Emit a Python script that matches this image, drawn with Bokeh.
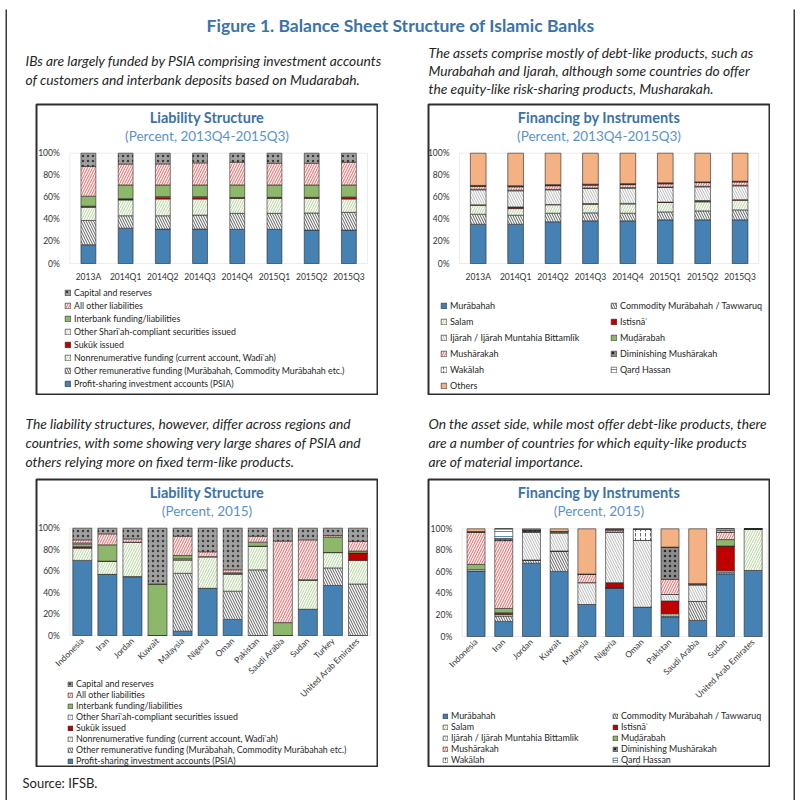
import math
from bokeh.plotting import figure
from bokeh.models import (ColumnDataSource, Range1d, Legend, LegendItem, Label, BoxAnnotation,
                          FixedTicker, PrintfTickFormatter, Spacer)
from bokeh.layouts import row, column
from bokeh.embed import file_html
from bokeh.resources import INLINE

FONT = "Lato"

# ---------------- data ----------------
periods = ["2013A", "2014Q1", "2014Q2", "2014Q3", "2014Q4", "2015Q1", "2015Q2", "2015Q3"]

# Liability structure (percent), 2013Q4-2015Q3
lt_psia = [17, 32, 31.2, 31.2, 31, 31, 30.3, 30.3]
lt_other_rem = [22, 11.3, 12.1, 12.7, 14.5, 14.5, 15.5, 16.1]
lt_nonrem = [12, 14.3, 15.2, 14.6, 13.6, 13.6, 13.3, 12.1]
lt_sukuk = [0.7, 0.9, 1.6, 1.6, 0.5, 0.6, 0.6, 1.4]
lt_other_sh = [0.3, 0.2, 0.5, 0.5, 0.3, 0.3, 0.3, 0.4]
lt_interbank = [9, 12.5, 10.6, 10.6, 11.3, 11.2, 11.2, 10.9]
lt_all_other = [27, 19, 19.1, 20, 20.6, 19.7, 19.7, 20.6]
lt_capital = [12, 9.8, 9.7, 8.8, 8.2, 9.1, 9.1, 8.2]

# Financing by instruments (percent), 2013Q4-2015Q3
ft_murabahah = [35.6, 35.6, 37.8, 38.7, 38.7, 39.6, 39.6, 39.6]
ft_commodity = [9.1, 8.2, 7.8, 7.2, 6.9, 7.2, 8.1, 9.0]
ft_salam = [8.2, 6.0, 7.6, 7.9, 8.4, 8.5, 8.2, 8.8]
ft_istisna = [0.3, 1.5, 0.3, 0.5, 0.5, 0.4, 1.2, 0.5]
ft_ijarah = [13.6, 14.6, 13.3, 13.7, 13.8, 13.2, 12.4, 12.5]
ft_mudarabah = [0.6, 0.6, 0.5, 0.5, 0.5, 0.5, 0.5, 0.5]
ft_musharakah = [2.5, 3.0, 3.2, 2.5, 2.7, 2.8, 3.3, 3.0]
ft_dim_mush = [0.5, 0.5, 0.6, 0.5, 0.5, 0.5, 0.4, 0.4]
ft_wakalah = [0.3, 0.3, 0.3, 0.3, 0.3, 0.3, 0.2, 0.2]
ft_qard = [0.1, 0.2, 0.1, 0.1, 0.1, 0.1, 0.1, 0.1]
ft_others = [29.2, 29.5, 28.5, 28.1, 27.6, 26.9, 26.0, 25.4]

# Liability structure by country (percent, 2015)
countries_l = ["Indonesia", "Iran", "Jordan", "Kuwait", "Malaysia", "Nigeria", "Oman",
               "Pakistan", "Saudi Arabia", "Sudan", "Turkey", "United Arab Emirates"]
lc_psia = [70, 57, 54.3, 0, 4, 44, 15, 0, 0, 24.5, 46.6, 0]
lc_other_rem = [0, 0, 0.7, 0, 54, 0, 26.3, 61.2, 0, 0, 16.4, 48]
lc_nonrem = [11.4, 12.3, 32, 0, 12.5, 29.5, 16.2, 22, 0, 27.4, 14.3, 22]
lc_sukuk = [1.5, 0, 0, 0, 0, 0, 0, 0, 0, 0, 0, 6.8]
lc_other_sh = [1.6, 0, 0, 0, 1, 0, 0, 0, 0, 0, 0, 0]
lc_interbank = [1.8, 15.2, 0, 48, 3, 0, 1, 3.8, 12, 0, 14.3, 1.9]
lc_all_other = [2.8, 10.2, 3, 0, 18, 4.5, 2.7, 5.5, 76, 37.2, 1.5, 9]
lc_capital = [10.9, 5.3, 10, 52, 7.5, 22, 38.8, 7.5, 12, 10.9, 6.9, 12.3]

# Financing by instruments by country (percent, 2015)
countries_f = ["Indonesia", "Iran", "Jordan", "Kuwait", "Malaysia", "Nigeria", "Oman",
               "Pakistan", "Saudi Arabia", "Sudan", "United Arab Emirates"]
fc_murabahah = [60.5, 14, 68, 60.4, 29.7, 45.2, 27.2, 18, 14.9, 58.2, 61.3]
fc_commodity = [0, 5, 3, 19, 0, 0, 0, 1, 17.6, 1.5, 0]
fc_salam = [0, 1.5, 0, 0, 0, 0, 0, 2, 0, 1.3, 38.7]
fc_istisna = [0, 1, 0, 0, 0, 4.8, 0, 12, 0, 23, 0]
fc_ijarah = [1.5, 0.5, 26, 16.6, 20.3, 47, 62, 6, 15.5, 0, 0]
fc_mudarabah = [5, 4, 0, 1, 0, 0, 0, 0, 0, 6, 0]
fc_musharakah = [30, 63, 0.5, 0.5, 8, 2, 0, 14, 1, 7, 0]
fc_dim_mush = [0, 1, 1.5, 0, 0, 0, 0, 30, 0, 0, 0]
fc_wakalah = [0, 1, 0, 0, 0, 0.5, 10.3, 0, 0, 1.5, 0]
fc_qard = [0.5, 9, 0, 0, 0, 0, 0, 0, 0, 1.5, 0]
fc_others = [2.5, 0, 1, 2.5, 42, 0.5, 0.5, 17, 51, 0, 0]

liab_labels = ["Profit-sharing investment accounts (PSIA)",
               "Other remunerative funding (Murābahah, Commodity Murābahah etc.)",
               "Nonrenumerative funding (current account, Wadīʿah)",
               "Sukūk issued",
               "Other Sharīʿah-compliant securities issued",
               "Interbank funding/liabilities",
               "All other liabilities",
               "Capital and reserves"]
fin_labels = ["Murābahah", "Commodity Murābahah / Tawwaruq", "Salam", "Istisnāʿ",
              "Ijārah / Ijārah Muntahia Bittamlīk", "Muḍārabah", "Mushārakah",
              "Diminishing Mushārakah", "Wakālah", "Qarḍ Hassan", "Others"]

# ---------------- styles ----------------
BLUE = "#4581b3"
GREEN = "#8db86b"
RED = "#c00000"
ORANGE = "#f4b183"
TITLE_BLUE = "#3b72a8"
SUB_BLUE = "#5b93c9"
INK = "#262626"
FRAME = "#2e2e2e"

liab_style = dict(
    fill=[BLUE, "white", "white", RED, "white", GREEN, "#fff0f0", "#a0a0a0"],
    hatch=["blank", "left_diagonal_line", "right_diagonal_line", "blank",
           "right_diagonal_line", "blank", "right_diagonal_line", "dot"],
    hcolor=["#000000", "#4d4d4d", "#a9d08e", "#000000", "#c8c8c8", "#000000", "#e35d5d", "#3a3a3a"],
)
fin_style = dict(
    fill=[BLUE, "white", "white", RED, "white", GREEN, "#fff0f0", "#8c8c8c", "white", "white", ORANGE],
    hatch=["blank", "left_diagonal_line", "right_diagonal_line", "blank", "left_diagonal_line",
           "blank", "right_diagonal_line", "dot", "vertical_dash", "horizontal_line", "blank"],
    hcolor=["#000000", "#4d4d4d", "#a9d08e", "#000000", "#b0b0b0", "#000000", "#e35d5d",
            "#262626", "#595959", BLUE, "#000000"],
)


def panel(factors, columns, labels, style, title, subtitle, W, H, g):
    """One boxed panel: the figure's frame is the whole box, the chart sits inside it."""
    n = len(factors)
    Wf, Hf = W - 2, H - 2          # frame size (min_border = 1)
    L, R, T, B = g["L"], g["R"], g["T"], g["B"]
    pitch = (R - L) / n
    x0 = -0.5 - L / pitch
    x1 = x0 + Wf / pitch
    upp = 100.0 / (B - T)
    y1 = 100 + T * upp
    y0 = y1 - Hf * upp

    data = {"idx": list(range(n)), "cat": factors}
    keys = []
    for i, col in enumerate(columns):
        data[f"s{i}"] = col
        keys.append(f"s{i}")
    src = ColumnDataSource(data)

    p = figure(width=W, height=H, x_range=Range1d(x0, x1), y_range=Range1d(y0, y1),
               output_backend="svg", toolbar_location=None, min_border=1)
    p.outline_line_color = FRAME
    p.outline_line_width = 2
    p.background_fill_color = "white"
    p.border_fill_color = "white"
    p.xgrid.visible = False
    p.ygrid.visible = False

    p.add_layout(BoxAnnotation(left=-0.5, right=n - 0.5, bottom=0, top=100, fill_alpha=0,
                               fill_color=None, line_color="#c4c4c4", line_width=1,
                               level="underlay"))

    rs = p.vbar_stack(keys, x="idx", width=g["bw"], source=src,
                      fill_color=style["fill"], hatch_pattern=style["hatch"],
                      hatch_color=style["hcolor"], hatch_scale=5, hatch_weight=0.9,
                      line_color=INK, line_width=0.6)

    p.yaxis.ticker = FixedTicker(ticks=[0, 20, 40, 60, 80, 100])
    p.yaxis.formatter = PrintfTickFormatter(format="%d%%")
    p.yaxis.fixed_location = -0.5
    p.xaxis.ticker = FixedTicker(ticks=list(range(n)))
    p.xaxis.major_label_overrides = {i: f for i, f in enumerate(factors)}
    p.xaxis.fixed_location = 0
    for ax in (p.xaxis, p.yaxis):
        ax.axis_line_color = None
        ax.major_tick_line_color = None
        ax.minor_tick_line_color = None
        ax.major_tick_out = 0
        ax.major_tick_in = 0
        ax.minor_tick_out = 0
        ax.minor_tick_in = 0
        ax.major_label_text_font = FONT
        ax.major_label_text_font_size = "8.5px"
        ax.major_label_text_color = "#333333"
    p.yaxis.major_label_standoff = 10
    p.xaxis.major_label_standoff = g["xs"]
    if g["rot"]:
        p.xaxis.major_label_orientation = math.pi / 4

    p.add_layout(Label(x=Wf / 2, y=Hf - g["ty"], x_units="screen", y_units="screen", text=title,
                       text_align="center", text_baseline="middle", text_font=FONT,
                       text_font_style="bold", text_font_size="14.5px", text_color=TITLE_BLUE))
    p.add_layout(Label(x=Wf / 2, y=Hf - g["sy"], x_units="screen", y_units="screen", text=subtitle,
                       text_align="center", text_baseline="middle", text_font=FONT,
                       text_font_size="13.5px", text_color=SUB_BLUE))

    lh = g["lh"]
    for xc, idxs in g["legend"]:
        items = [LegendItem(label=labels[i], renderers=[rs[i]]) for i in idxs]
        top = g["c0"] - lh / 2
        vy = Hf - (top + len(idxs) * lh)
        leg = Legend(items=items, location=(xc, vy), orientation="vertical",
                     padding=0, margin=0, spacing=0, label_height=lh,
                     glyph_height=g["gs"], glyph_width=g["gs"], label_standoff=3,
                     label_text_font=FONT, label_text_font_size=g["lf"],
                     label_text_color=INK, border_line_color=None,
                     background_fill_alpha=0)
        p.add_layout(leg, "center")
    return p


def text_fig(W, H, items):
    p = figure(width=W, height=H, output_backend="svg", toolbar_location=None,
               x_axis_type=None, y_axis_type=None, min_border=0,
               x_range=Range1d(0, 1), y_range=Range1d(0, 1))
    p.outline_line_color = None
    p.background_fill_color = "white"
    p.border_fill_color = "white"
    for (x, y, txt, kw) in items:
        p.add_layout(Label(x=x, y=H - y, x_units="screen", y_units="screen", text=txt,
                           text_baseline="middle", text_font=FONT, **kw))
    return p


def line_fig(w, h):
    p = figure(width=w, height=h, output_backend="svg", toolbar_location=None,
               x_axis_type=None, y_axis_type=None, min_border=0,
               x_range=Range1d(0, 1), y_range=Range1d(0, 1))
    p.outline_line_color = None
    p.background_fill_color = "#3a3a3a"
    p.border_fill_color = "#3a3a3a"
    return p


CAP = dict(text_font_style="italic", text_font_size="13.8px", text_color=INK)

header = text_fig(786, 92, [
    (393, 14, "Figure 1. Balance Sheet Structure of Islamic Banks",
     dict(text_align="center", text_font_style="bold", text_font_size="17.5px", text_color=TITLE_BLUE)),
    (18, 49, "IBs are largely funded by PSIA comprising investment accounts", CAP),
    (18, 68, "of customers and interbank deposits based on Mudarabah.", CAP),
    (421, 41, "The assets comprise mostly of debt-like products, such as", CAP),
    (421, 59, "Murabahah and Ijarah, although some countries do offer", CAP),
    (421, 77, "the equity-like risk-sharing products, Musharakah.", CAP),
])

mid = text_fig(786, 83, [
    (18, 28, "The liability structures, however, differ across regions and", CAP),
    (18, 47, "countries, with some showing very large shares of PSIA and", CAP),
    (18, 66, "others relying more on fixed term-like products.", CAP),
    (421, 28, "On the asset side, while most offer debt-like products, there", CAP),
    (421, 47, "are a number of countries for which equity-like products", CAP),
    (421, 66, "are of material importance.", CAP),
])

source = text_fig(786, 31, [
    (15, 15, "Source: IFSB.", dict(text_font_size="13px", text_color=INK)),
])

liab_ts = [lt_psia, lt_other_rem, lt_nonrem, lt_sukuk, lt_other_sh, lt_interbank, lt_all_other, lt_capital]
fin_ts = [ft_murabahah, ft_commodity, ft_salam, ft_istisna, ft_ijarah, ft_mudarabah,
          ft_musharakah, ft_dim_mush, ft_wakalah, ft_qard, ft_others]
liab_c = [lc_psia, lc_other_rem, lc_nonrem, lc_sukuk, lc_other_sh, lc_interbank, lc_all_other, lc_capital]
fin_c = [fc_murabahah, fc_commodity, fc_salam, fc_istisna, fc_ijarah, fc_mudarabah,
         fc_musharakah, fc_dim_mush, fc_wakalah, fc_qard, fc_others]

g_tl = dict(L=33.3, R=331, T=48.7, B=159, bw=0.4, rot=False, xs=8, ty=13, sy=31,
            legend=[(28, list(range(7, -1, -1)))], c0=188.7, lh=13, gs=7, lf="8.8px")
g_tr = dict(L=31, R=330.3, T=48.7, B=159, bw=0.42, rot=False, xs=8, ty=13, sy=31,
            legend=[(12, [0, 2, 4, 6, 8, 10]), (182, [1, 3, 5, 7, 9])], c0=201, lh=16, gs=7,
            lf="9px")
g_bl = dict(L=33.3, R=334, T=48.7, B=156, bw=0.76, rot=True, xs=4, ty=13, sy=31,
            legend=[(31, list(range(7, -1, -1)))], c0=204.5, lh=11, gs=6, lf="8.8px")
g_br = dict(L=33.7, R=338.5, T=49.3, B=157, bw=0.65, rot=True, xs=4, ty=13, sy=31,
            legend=[(14, [0, 2, 4, 6, 8]), (184, [1, 3, 5, 7, 9])], c0=236.5, lh=11, gs=6,
            lf="8.9px")

p_tl = panel(periods, liab_ts, liab_labels, liab_style, "Liability Structure",
             "(Percent, 2013Q4-2015Q3)", 343, 292, g_tl)
p_tr = panel(periods, fin_ts, fin_labels, fin_style, "Financing by Instruments",
             "(Percent, 2013Q4-2015Q3)", 343, 292, g_tr)
p_bl = panel(countries_l, liab_c, liab_labels, liab_style, "Liability Structure",
             "(Percent, 2015)", 343, 289, g_bl)
p_br = panel(countries_f, fin_c, fin_labels, fin_style, "Financing by Instruments",
             "(Percent, 2015)", 343, 289, g_br)

top_row = row(Spacer(width=28, height=292), p_tl, Spacer(width=49, height=292), p_tr,
              Spacer(width=23, height=292))
bot_row = row(Spacer(width=28, height=289), p_bl, Spacer(width=49, height=289), p_br,
              Spacer(width=23, height=289))

content = column(header, top_row, mid, bot_row, source)
boxed = row(line_fig(2, 791),
            column(line_fig(786, 2), content, line_fig(786, 2)),
            line_fig(2, 791))
page = column(Spacer(width=800, height=9), row(Spacer(width=5, height=791), boxed))

open("out.html", "w").write(file_html(page, INLINE))
